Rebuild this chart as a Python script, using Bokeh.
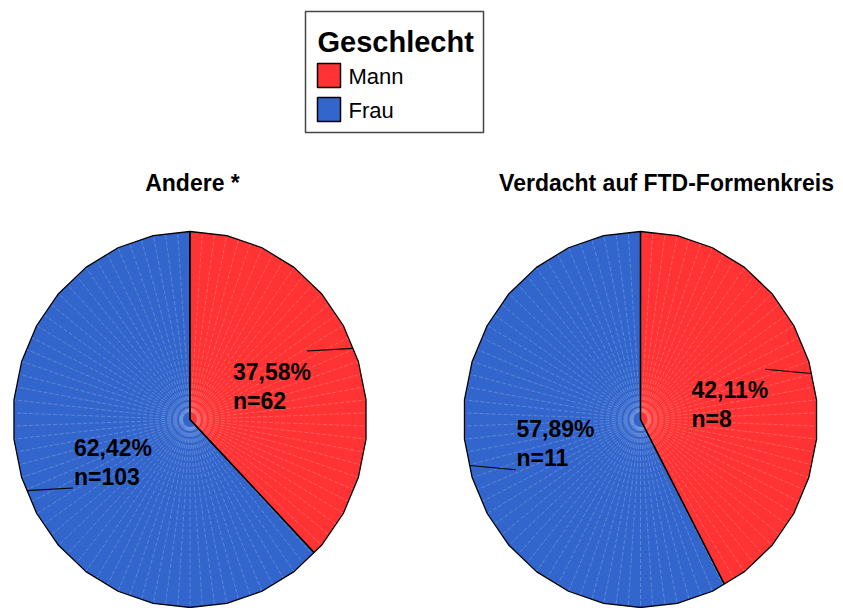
import numpy as np
from bokeh.plotting import figure
from bokeh.models import Range1d
from bokeh.embed import file_html
from bokeh.resources import INLINE
from bokeh.core.properties import value

# ---------------- data ----------------
groups = ["Andere *", "Verdacht auf FTD-Formenkreis"]
sexes = ["Mann", "Frau"]
counts_mann = [62, 8]
counts_frau = [103, 11]
colors = ["#FF3333", "#3366CC"]
legend_title = "Geschlecht"

# ---------------- layout ----------------
FONT = value("Liberation Sans")
W, H = 843, 608
p = figure(width=W, height=H, x_range=Range1d(0, 843), y_range=Range1d(608, 0),
           output_backend="svg", toolbar_location=None, min_border=0,
           x_axis_type=None, y_axis_type=None)
p.xgrid.visible = False
p.ygrid.visible = False
p.outline_line_color = None
p.background_fill_color = "white"

centers = [(189.5, 419.0), (640.0, 419.0)]
RX, RY = 177.0, 188.0
SIDE = 12.0          # polygonal outline step (deg)
FAINT = 4.0          # faint radial line step (deg)
title_x = [192, 666]
title_y = 190
BASE_SHIFT = 0.32    # baseline correction (fraction of font size)


def unit_dir(a):
    r = np.radians(a)
    return np.array([np.sin(r), -np.cos(r)])


def poly_point(theta):
    k = np.floor(theta / SIDE)
    a0, a1 = k * SIDE, (k + 1) * SIDE
    v0, v1 = unit_dir(a0), unit_dir(a1)
    d = unit_dir(theta)
    e = v1 - v0
    det = -d[0] * e[1] + e[0] * d[1]
    t = (-v0[0] * e[1] + e[0] * v0[1]) / det
    return t * d


def to_xy(c, u):
    return c[0] + RX * u[0], c[1] + RY * u[1]


def put_text(xs, ys, texts, size, bold=False, align="left"):
    p.text(x=xs, y=[y - BASE_SHIFT * size for y in ys], text=texts, text_font=FONT,
           text_font_style="bold" if bold else "normal", text_font_size=f"{size}px",
           text_color="black", text_align=align, text_baseline="alphabetic")


for gi, g in enumerate(groups):
    c = centers[gi]
    counts = [counts_mann[gi], counts_frau[gi]]
    total = sum(counts)
    start = 0.0
    xs_all, ys_all, fills = [], [], []
    slices = []
    for si, n in enumerate(counts):
        span = n / total * 360.0
        end = start + span
        pts = [c]
        pts.append(to_xy(c, poly_point(start)))
        k = np.floor(start / SIDE) + 1
        while k * SIDE < end - 1e-9:
            pts.append(to_xy(c, unit_dir(k * SIDE)))
            k += 1
        pts.append(to_xy(c, poly_point(min(end, 359.9999))))
        xs_all.append([q[0] for q in pts])
        ys_all.append([q[1] for q in pts])
        fills.append(colors[si])
        slices.append((start, end, n, total))
        start = end

    p.patches(xs_all, ys_all, fill_color=fills, line_color=None)

    # faint radial lines
    angs = np.arange(0, 360, FAINT)
    sx, sy, ex, ey = [], [], [], []
    for a in angs:
        x0, y0 = to_xy(c, 0.04 * unit_dir(a))
        x1, y1 = to_xy(c, poly_point(a))
        sx.append(x0)
        sy.append(y0)
        ex.append(x1)
        ey.append(y1)
    p.segment(x0=sx, y0=sy, x1=ex, y1=ey,
              line_color="white", line_alpha=0.35, line_width=0.6, line_dash="4 2")

    # outlines
    p.patches(xs_all, ys_all, fill_color=None, line_color="black", line_width=1.3)

    # labels + leader lines
    for si, (s, e, n, tot) in enumerate(slices):
        mid = (s + e) / 2.0
        ox, oy = to_xy(c, poly_point(mid))
        ix, iy = to_xy(c, 0.755 * unit_dir(mid - 6.5))
        p.segment(x0=[ox], y0=[oy], x1=[ix], y1=[iy], line_color="black", line_width=1.1)
        pct = f"{n / tot * 100:.2f}".replace(".", ",") + "%"
        ntxt = f"n={n}"
        if mid < 180:
            lx = ix - 74
            b1 = iy + 28
        else:
            lx = ix + 1
            b1 = iy - 3 - 30
        b2 = b1 + 29
        put_text([lx, lx], [b1, b2], [pct, ntxt], 23, bold=True)

    put_text([title_x[gi]], [title_y], [g], 23, bold=True, align="center")

# ---------------- legend ----------------
p.quad(left=[305], right=[483], top=[11], bottom=[132], fill_color="white",
       line_color="#444444", line_width=1.5)
put_text([317], [51], [legend_title], 29, bold=True)
sw_top = [63, 97]
p.quad(left=[317, 317], right=[340, 340], top=sw_top, bottom=[t + 24 for t in sw_top],
       fill_color=colors, line_color="black", line_width=1.5)
put_text([348, 348], [t + 20 for t in sw_top], sexes, 22)

open("out.html", "w").write(file_html(p, INLINE))
